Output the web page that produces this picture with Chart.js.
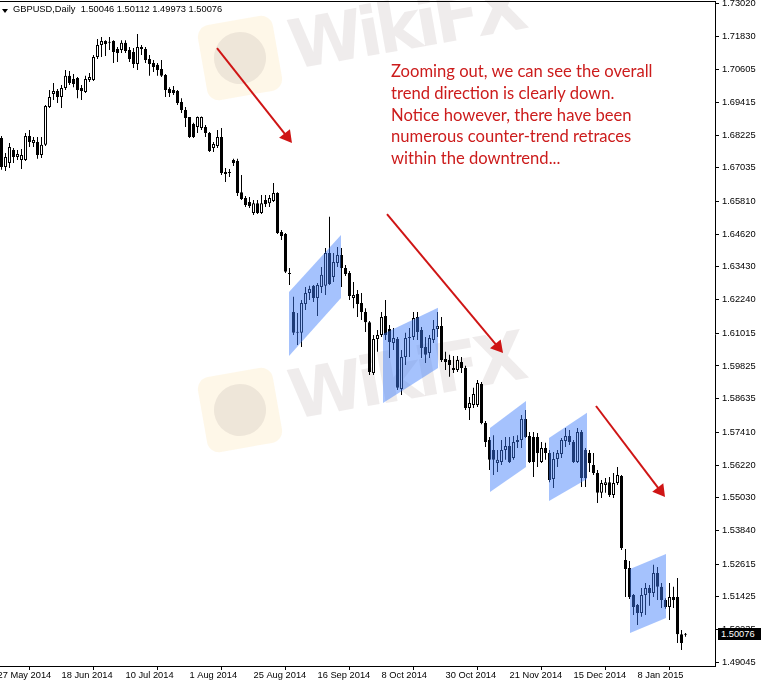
<!DOCTYPE html>
<html>
<head>
<meta charset="utf-8">
<script src="https://cdn.jsdelivr.net/npm/chart.js@4.4.0/dist/chart.umd.min.js"></script>
<style>
  html, body { margin: 0; padding: 0; background: #fff; overflow: hidden; }
  #wrap { position: relative; width: 761px; height: 683px; overflow: hidden; }
  #chart { position: absolute; left: 0; top: 0; }
  .wm { position: absolute; font: bold 68px "DejaVu Sans", sans-serif; letter-spacing: -5px; color: rgba(120, 100, 100, 0.12); transform: rotate(-10deg); transform-origin: left bottom; white-space: nowrap; }
  .logo { position: absolute; width: 76px; height: 76px; border-radius: 12px; background: rgba(250, 220, 150, 0.22); transform: rotate(-10deg); }
  .logo div { position: absolute; left: 12px; top: 12px; width: 52px; height: 52px; border-radius: 50%; background: rgba(140, 130, 130, 0.14); }
  .frame { position: absolute; left: 0; top: 1px; width: 716px; height: 1px; background: #000; }
  .hdr { position: absolute; left: 13px; top: 4px; font: 9.3px "Liberation Sans", Arial, sans-serif; color: #000; white-space: pre; }
  .tri { position: absolute; left: 2px; top: 9px; width: 0; height: 0; border-left: 3px solid transparent; border-right: 3px solid transparent; border-top: 4px solid #000; }
  .note { position: absolute; left: 391px; top: 61px; font: 16.6px Lato, sans-serif; color: #cc1c1c; line-height: 21.8px; white-space: nowrap; }
  .price { position: absolute; left: 718px; top: 628px; width: 40px; height: 12px; padding-left: 3px; background: #000; color: #fff; font: 9.3px "Liberation Sans", Arial, sans-serif; line-height: 12px; }
</style>
</head>
<body>
<div id="wrap">
  <div class="logo" style="left:202px;top:20px"><div></div></div>
  <div class="logo" style="left:202px;top:372px"><div></div></div>
  <div class="wm" style="left:296px;top:6px">WikiFX</div>
  <div class="wm" style="left:296px;top:356px">WikiFX</div>
  <canvas id="chart" width="761" height="683"></canvas>
  <div class="frame"></div>
  <div class="tri"></div>
  <div class="hdr">GBPUSD,Daily  1.50046 1.50112 1.49973 1.50076</div>
  <div class="note">Zooming out, we can see the overall<br>trend direction is clearly down.<br>Notice however, there have been<br>numerous counter-trend retraces<br>within the downtrend...</div>
  <div class="price">1.50076</div>
</div>
<script>
// daily bars from 28 May 2014 (bar 1) to 26 Jan 2015 (bar 172)
const firstBar = 1;
const opens = [
  1.6812,1.6706,1.6721,1.6768,1.6743,1.6732,1.6732,1.6819,1.6794,1.6797,
  1.6750,1.6787,1.6925,1.6972,1.6983,1.6961,1.6994,1.7038,1.7027,1.7030,
  1.6994,1.6979,1.7023,1.7023,1.7107,1.7150,1.7165,1.7158,1.7165,1.7136,
  1.7132,1.7158,1.7132,1.7125,1.7081,1.7143,1.7136,1.7099,1.7085,1.7078,
  1.7063,1.7041,1.6990,1.6987,1.6983,1.6943,1.6914,1.6888,1.6863,1.6852,
  1.6848,1.6852,1.6830,1.6776,1.6783,1.6816,1.6688,1.6685,1.6732,1.6728,
  1.6615,1.6594,1.6579,1.6539,1.6575,1.6539,1.6586,1.6575,1.6583,1.6612,
  1.6470,1.6463,1.6321,1.6179,1.6103,1.6103,1.6208,1.6248,1.6274,1.6230,
  1.6270,1.6274,1.6394,1.6306,1.6357,1.6386,1.6339,1.6321,1.6230,1.6244,
  1.6212,1.6179,1.6142,1.5957,1.6081,1.6095,1.6164,1.6117,1.6066,1.6081,
  1.5899,1.6015,1.6084,1.6088,1.6161,1.6113,1.6052,1.6030,1.6077,1.6117,
  1.6128,1.6008,1.6004,1.5968,1.5968,1.5997,1.5975,1.5830,1.5841,1.5841,
  1.5917,1.5775,1.5713,1.5677,1.5630,1.5633,1.5677,1.5691,1.5648,1.5706,
  1.5713,1.5790,1.5728,1.5724,1.5724,1.5633,1.5684,1.5666,1.5571,1.5644,
  1.5662,1.5710,1.5728,1.5706,1.5633,1.5742,1.5677,1.5666,1.5622,1.5593,
  1.5521,1.5550,1.5560,1.5513,1.5557,1.5582,1.5277,1.5248,1.5149,1.5113,
  1.5084,1.5149,1.5175,1.5157,1.5229,1.5179,1.5131,1.5106,1.5142,1.5142,
  1.5007,1.50046
];
const highs = [
  1.6819,1.6757,1.6794,1.6776,1.6768,1.6772,1.6830,1.6841,1.6816,1.6816,
  1.6816,1.6932,1.6987,1.7012,1.6990,1.7005,1.7059,1.7056,1.7045,1.7034,
  1.7005,1.7038,1.7048,1.7114,1.7172,1.7179,1.7168,1.7179,1.7168,1.7143,
  1.7168,1.7168,1.7143,1.7139,1.7190,1.7150,1.7143,1.7114,1.7096,1.7085,
  1.7096,1.7045,1.6997,1.7001,1.6987,1.6957,1.6925,1.6888,1.6867,1.6890,
  1.6890,1.6859,1.6834,1.6797,1.6841,1.6848,1.6703,1.6699,1.6736,1.6736,
  1.6677,1.6601,1.6597,1.6586,1.6586,1.6605,1.6605,1.6605,1.6648,1.6615,
  1.6477,1.6466,1.6339,1.6234,1.6175,1.6223,1.6270,1.6274,1.6277,1.6284,
  1.6343,1.6412,1.6525,1.6394,1.6415,1.6412,1.6350,1.6328,1.6288,1.6259,
  1.6248,1.6193,1.6146,1.6095,1.6113,1.6179,1.6223,1.6132,1.6121,1.6088,
  1.6041,1.6103,1.6121,1.6179,1.6179,1.6124,1.6088,1.6095,1.6150,1.6179,
  1.6161,1.6034,1.6023,1.6019,1.6019,1.6015,1.5983,1.5870,1.5903,1.5932,
  1.5924,1.5782,1.5724,1.5731,1.5677,1.5713,1.5724,1.5724,1.5728,1.5731,
  1.5804,1.5822,1.5742,1.5742,1.5739,1.5706,1.5703,1.5677,1.5670,1.5677,
  1.5721,1.5757,1.5750,1.5713,1.5757,1.5750,1.5684,1.5677,1.5666,1.5604,
  1.5568,1.5575,1.5579,1.5593,1.5615,1.5586,1.5317,1.5273,1.5153,1.5117,
  1.5175,1.5193,1.5186,1.5259,1.5251,1.5193,1.5138,1.5193,1.5179,1.5211,
  1.5022,1.50112
];
const lows = [
  1.6696,1.6692,1.6703,1.6721,1.6732,1.6699,1.6728,1.6779,1.6779,1.6736,
  1.6739,1.6783,1.6921,1.6950,1.6939,1.6921,1.6987,1.7005,1.6997,1.6957,
  1.6950,1.6976,1.7016,1.7019,1.7099,1.7107,1.7110,1.7132,1.7085,1.7088,
  1.7121,1.7121,1.7088,1.7067,1.7059,1.7114,1.7085,1.7038,1.7052,1.7038,
  1.7034,1.6961,1.6961,1.6968,1.6932,1.6903,1.6852,1.6812,1.6812,1.6830,
  1.6841,1.6816,1.6761,1.6761,1.6776,1.6677,1.6652,1.6670,1.6710,1.6601,
  1.6586,1.6561,1.6557,1.6532,1.6535,1.6535,1.6561,1.6561,1.6579,1.6463,
  1.6441,1.6321,1.6277,1.6095,1.6059,1.6052,1.6186,1.6223,1.6215,1.6164,
  1.6248,1.6241,1.6277,1.6288,1.6343,1.6270,1.6310,1.6223,1.6193,1.6161,
  1.6150,1.6106,1.5950,1.5950,1.6034,1.6088,1.6077,1.6012,1.6041,1.5895,
  1.5877,1.5986,1.6015,1.6077,1.6077,1.6012,1.5993,1.6012,1.6066,1.6088,
  1.5997,1.5968,1.5943,1.5957,1.5961,1.5957,1.5822,1.5786,1.5830,1.5833,
  1.5771,1.5688,1.5604,1.5586,1.5597,1.5622,1.5641,1.5630,1.5641,1.5684,
  1.5684,1.5721,1.5630,1.5579,1.5615,1.5630,1.5641,1.5560,1.5539,1.5615,
  1.5648,1.5688,1.5695,1.5630,1.5630,1.5542,1.5542,1.5597,1.5586,1.5484,
  1.5502,1.5521,1.5506,1.5502,1.5550,1.5313,1.5142,1.5135,1.5077,1.5040,
  1.5070,1.5077,1.5110,1.5142,1.5131,1.5102,1.5099,1.5058,1.5102,1.4975,
  1.4949,1.49973
];
const closes = [
  1.6706,1.6743,1.6779,1.6743,1.6754,1.6750,1.6819,1.6797,1.6805,1.6750,
  1.6787,1.6928,1.6961,1.6983,1.6961,1.6994,1.7038,1.7012,1.7008,1.6987,
  1.6983,1.7027,1.7034,1.7107,1.7150,1.7165,1.7154,1.7161,1.7125,1.7121,
  1.7158,1.7128,1.7099,1.7081,1.7143,1.7136,1.7096,1.7081,1.7070,1.7059,
  1.7038,1.6987,1.6976,1.6976,1.6939,1.6914,1.6885,1.6816,1.6816,1.6888,
  1.6888,1.6830,1.6765,1.6790,1.6816,1.6685,1.6681,1.6688,1.6721,1.6612,
  1.6590,1.6568,1.6565,1.6575,1.6539,1.6575,1.6572,1.6594,1.6612,1.6466,
  1.6455,1.6325,1.6317,1.6103,1.6106,1.6212,1.6248,1.6263,1.6230,1.6277,
  1.6314,1.6394,1.6281,1.6361,1.6386,1.6339,1.6317,1.6237,1.6241,1.6208,
  1.6179,1.6142,1.5961,1.6081,1.6095,1.6161,1.6095,1.6070,1.6084,1.5903,
  1.6015,1.6084,1.6088,1.6157,1.6106,1.6048,1.6023,1.6084,1.6117,1.6128,
  1.6004,1.5997,1.5986,1.5975,1.6004,1.5975,1.5830,1.5848,1.5881,1.5921,
  1.5775,1.5706,1.5641,1.5641,1.5641,1.5677,1.5691,1.5633,1.5706,1.5713,
  1.5790,1.5724,1.5633,1.5633,1.5666,1.5684,1.5666,1.5568,1.5644,1.5666,
  1.5713,1.5728,1.5706,1.5633,1.5742,1.5575,1.5575,1.5630,1.5593,1.5521,
  1.5557,1.5560,1.5513,1.5557,1.5586,1.5320,1.5244,1.5142,1.5106,1.5084,
  1.5149,1.5175,1.5157,1.5229,1.5179,1.5131,1.5106,1.5142,1.5131,1.5007,
  1.4975,1.50076
];

// time axis labels, one every 16 bars starting at 27 May 2014 (bar 0)
const dateTicks = [0, 16, 32, 48, 64, 80, 96, 112, 128, 144, 160];
const dateLabels = ["27 May 2014", "18 Jun 2014", "10 Jul 2014", "1 Aug 2014", "25 Aug 2014",
  "16 Sep 2014", "8 Oct 2014", "30 Oct 2014", "21 Nov 2014", "15 Dec 2014", "8 Jan 2015"];
const priceTicks = [1.73020, 1.71830, 1.70605, 1.69415, 1.68225, 1.67035, 1.65810, 1.64620,
  1.63430, 1.62240, 1.61015, 1.59825, 1.58635, 1.57410, 1.56220, 1.55030, 1.53840, 1.52615,
  1.51425, 1.50235, 1.49045];

// counter-trend channels (blue boxes): start/end bar and price edges
const chanStart = [72.875, 96.375, 123.125, 137.875, 158.125];
const chanEnd   = [85.875, 110.125, 132.125, 147.375, 167.125];
const chanTopA  = [1.6252, 1.6099, 1.5757, 1.5721, 1.5244];
const chanTopB  = [1.6459, 1.6194, 1.5855, 1.5812, 1.5299];
const chanBotA  = [1.6019, 1.5848, 1.5524, 1.5491, 1.5011];
const chanBotB  = [1.6230, 1.5975, 1.5615, 1.5571, 1.5066];

// red trend arrows
const arrowX0 = [54.875, 97.375, 149.625];
const arrowY0 = [1.7139, 1.6535, 1.5837];
const arrowX1 = [72.375, 125.1, 165.675];
const arrowY1 = [1.6817, 1.6052, 1.5529];
const arrowRot = [141.7, 140.1, 142.8];

const bodyData = opens.map((o, k) => ({ x: k + firstBar, y: [o, closes[k]] }));
const wickData = lows.map((l, k) => ({ x: k + firstBar, y: [l, highs[k]] }));
const bodyColors = opens.map((o, k) => closes[k] >= o ? '#ffffff' : '#000000');

const datasets = [];
arrowX0.forEach((x0, k) => {
  datasets.push({
    type: 'line', label: 'arrow' + k, order: 1,
    data: [{ x: x0, y: arrowY0[k] }, { x: arrowX1[k], y: arrowY1[k] }],
    borderColor: '#cf1515', borderWidth: 2,
    pointStyle: 'triangle', pointRadius: [0, 8], pointRotation: [0, arrowRot[k]],
    pointBackgroundColor: '#cf1515', pointBorderWidth: 0, pointBorderColor: '#cf1515'
  });
});
chanStart.forEach((s, k) => {
  datasets.push({
    type: 'line', label: 'chanTop' + k, order: 5,
    data: [{ x: s, y: chanTopA[k] }, { x: chanEnd[k], y: chanTopB[k] }],
    borderWidth: 0, pointRadius: 0, fill: false
  });
  datasets.push({
    type: 'line', label: 'chanBot' + k, order: 5,
    data: [{ x: s, y: chanBotA[k] }, { x: chanEnd[k], y: chanBotB[k] }],
    borderWidth: 0, pointRadius: 0, fill: '-1',
    backgroundColor: 'rgba(63, 126, 250, 0.47)'
  });
});
datasets.push({
  label: 'body', data: bodyData, order: 10, grouped: false,
  backgroundColor: bodyColors, borderColor: '#000', borderWidth: 1,
  borderSkipped: false, barThickness: 3, minBarLength: 1, inflateAmount: 0
});
datasets.push({
  label: 'wick', data: wickData, order: 20, grouped: false,
  backgroundColor: '#000', borderWidth: 0, barThickness: 1, inflateAmount: 0
});

const axisFont = { family: 'Liberation Sans', size: 9.3 };

new Chart(document.getElementById('chart'), {
  type: 'bar',
  data: { datasets: datasets },
  options: {
    responsive: false,
    animation: false,
    layout: { autoPadding: false, padding: { top: 2, left: 0, right: 0, bottom: 0 } },
    plugins: { legend: { display: false }, tooltip: { enabled: false } },
    scales: {
      x: {
        type: 'linear', position: 'bottom', min: 0.625, max: 179.375, offset: false,
        afterBuildTicks: (s) => { s.ticks = dateTicks.map(v => ({ value: v })); },
        afterFit: (s) => { s.height = 17; s.paddingLeft = 0; s.paddingRight = 0; },
        ticks: {
          autoSkip: false, maxRotation: 0, align: 'start', padding: 0,
          color: '#000', font: axisFont,
          callback: (v, i) => dateLabels[i]
        },
        grid: { drawOnChartArea: false, drawTicks: true, tickLength: 4, color: '#000' },
        border: { display: true, color: '#000', width: 1 }
      },
      y: {
        type: 'linear', position: 'right', min: 1.48911, max: 1.73067,
        afterBuildTicks: (s) => { s.ticks = priceTicks.map(v => ({ value: v })); },
        afterFit: (s) => { s.width = 46; s.paddingTop = 0; s.paddingBottom = 0; },
        ticks: {
          autoSkip: false, padding: 3, color: '#000', font: axisFont,
          callback: (v) => v.toFixed(5)
        },
        grid: { drawOnChartArea: false, drawTicks: true, tickLength: 4, color: '#000' },
        border: { display: true, color: '#000', width: 1 }
      }
    }
  }
});
</script>
</body>
</html>
